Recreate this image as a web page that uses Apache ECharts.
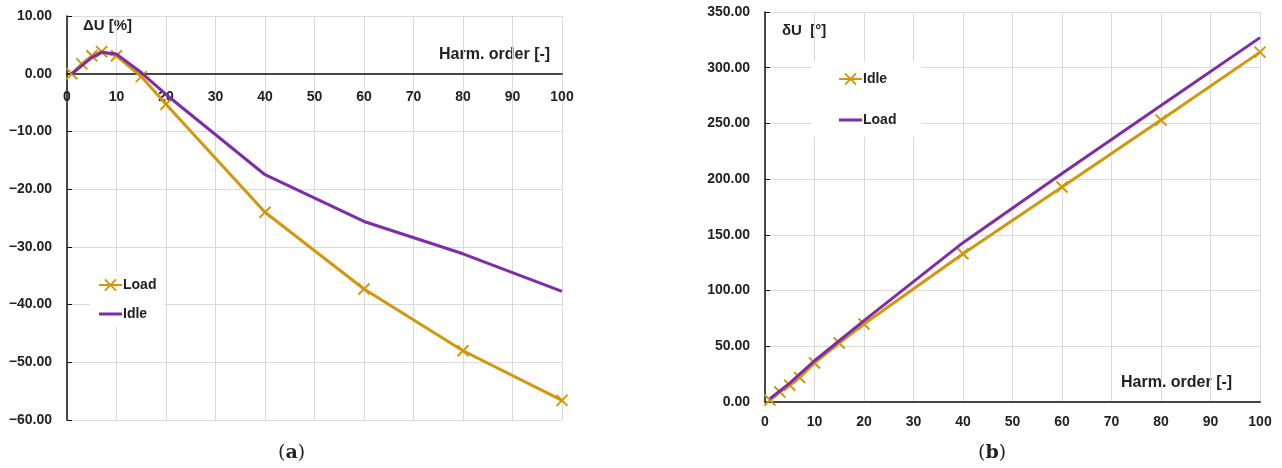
<!DOCTYPE html>
<html>
<head>
<meta charset="utf-8">
<script src="https://cdn.jsdelivr.net/npm/echarts@6/dist/echarts.min.js"></script>
<style>
  html, body { margin: 0; padding: 0; background: #fff; }
  #wrap { width: 1282px; height: 468px; position: relative; }
  #chartA { position: absolute; left: 0; top: 0; width: 641px; height: 468px; }
  #chartB { position: absolute; left: 641px; top: 0; width: 641px; height: 468px; }
</style>
</head>
<body>
<div id="wrap">
  <div id="chartA"></div>
  <div id="chartB"></div>
</div>
<script>
  // harmonic orders (same for both plots)
  const harmonics = [1, 3, 5, 7, 10, 15, 20, 40, 60, 80, 100];

  // (a) amplitude deviation ΔU [%]
  const dULoad = [0.0, 1.7, 3.1, 3.8, 3.1, -0.5, -5.3, -24.0, -37.3, -48.0, -56.6];
  const dUIdle = [0.0, 1.4, 2.8, 3.7, 3.4, 0.2, -3.6, -17.5, -25.6, -31.2, -37.7];

  // (b) phase deviation δU [°]
  const phiIdle = [1.8, 9, 15, 22, 35, 53, 70, 133, 193, 253, 314];
  const phiLoad = [3, 10, 17, 25, 37, 55, 73, 143, 205, 266, 327];

  const ORANGE = '#D3970C';
  const PURPLE = '#7D2DA8';
  const FONT = 'Liberation Sans';
  const crossPath = 'path://M0,0L10,10M10,0L0,10';
  // plain line icon for the legend (corner points keep the 23x14 box)
  const linePath = 'path://M0,0L0.01,0M0,5.5L23,5.5L23,8.5L0,8.5ZM23,14L22.99,14';

  const pairs = (ys) => harmonics.map((h, i) => [h, ys[i]]);
  const fmt = (v) => v.toFixed(2).replace('-', '\u2212');

  function xAxisCfg(margin) {
    return {
      type: 'value', min: 0, max: 100, interval: 10,
      axisLine: { onZero: false, lineStyle: { color: '#111', width: 1.5 } },
      axisTick: { show: false },
      axisLabel: { margin: margin, color: '#222', fontFamily: FONT, fontWeight: 'bold', fontSize: 14 },
      splitLine: { show: true, lineStyle: { color: '#dadada', width: 1 } }
    };
  }
  function yAxisCfg(min, max, interval) {
    return {
      type: 'value', min: min, max: max, interval: interval,
      axisLine: { show: true, onZero: false, lineStyle: { color: '#111', width: 1.5 } },
      axisTick: { show: true, inside: true, length: 5, lineStyle: { color: '#111' } },
      axisLabel: { margin: 15, color: '#222', fontFamily: FONT, fontWeight: 'bold', fontSize: 14, formatter: fmt },
      splitLine: { show: true, lineStyle: { color: '#dadada', width: 1 } }
    };
  }
  function crossSeries(name, ys) {
    return {
      name: name, type: 'line', data: pairs(ys),
      symbol: crossPath, symbolSize: 11,
      itemStyle: { color: ORANGE, borderColor: ORANGE, borderWidth: 2 },
      lineStyle: { color: ORANGE, width: 3 },
      z: 2
    };
  }
  function plainSeries(name, ys) {
    return {
      name: name, type: 'line', data: pairs(ys), symbol: 'none',
      itemStyle: { color: PURPLE },
      lineStyle: { color: PURPLE, width: 3 },
      z: 3
    };
  }
  function label(text, x, y, size) {
    return { type: 'text', left: x, top: y, style: { text: text, fill: '#222', font: 'bold ' + size + 'px "' + FONT + '"' } };
  }
  function caption(letter, x) {
    return {
      type: 'text', left: x, top: 444,
      style: {
        text: '{n|(}{b|' + letter + '}{n|)}',
        rich: {
          n: { fontFamily: 'DejaVu Serif', fontSize: 19, fill: '#222' },
          b: { fontFamily: 'DejaVu Serif', fontSize: 19, fontWeight: 'bold', fill: '#222' }
        }
      }
    };
  }
  function legendCfg(items, left, top, gap, pad) {
    return {
      data: items, orient: 'vertical', left: left, top: top,
      itemWidth: 23, itemHeight: 14, itemGap: gap, padding: pad,
      backgroundColor: '#fff',
      textStyle: { fontFamily: FONT, fontWeight: 'bold', fontSize: 14, color: '#222', padding: [0, 0, 0, -4] },
      selectedMode: false
    };
  }

  // (a): zero line sits at 10/70 of the plot height from the top
  const gridA = { left: 67, right: 79, top: 16, bottom: 48 };
  const plotHA = 468 - gridA.top - gridA.bottom;
  const zeroShift = plotHA * 60 / 70;

  const chartA = echarts.init(document.getElementById('chartA'));
  chartA.setOption({
    animation: false,
    grid: gridA,
    xAxis: Object.assign(xAxisCfg(16), { offset: -zeroShift }),
    yAxis: yAxisCfg(-60, 10, 10),
    legend: legendCfg(['Load', { name: 'Idle', icon: linePath }], 90, 272, 15, [6, 8, 6, 8]),
    series: [crossSeries('Load', dULoad), plainSeries('Idle', dUIdle)],
    graphic: [
      label('\u0394U [%]', 83, 18, 15),
      label('Harm. order [-]', 439, 47, 16),
      caption('a', 278)
    ]
  });

  const chartB = echarts.init(document.getElementById('chartB'));
  chartB.setOption({
    animation: false,
    grid: { left: 124, right: 22, top: 12, bottom: 66 },
    xAxis: Object.assign(xAxisCfg(13), { axisLine: { onZero: false, lineStyle: { color: '#444', width: 2 } } }),
    yAxis: yAxisCfg(0, 350, 50),
    legend: legendCfg(['Idle', { name: 'Load', icon: linePath }], 171, 62, 27, [10, 26, 10, 26]),
    series: [crossSeries('Idle', phiIdle), plainSeries('Load', phiLoad)],
    graphic: [
      label('\u03B4U  [\u00B0]', 141, 23, 15),
      label('Harm. order [-]', 480, 375, 16),
      caption('b', 337)
    ]
  });
</script>
</body>
</html>
